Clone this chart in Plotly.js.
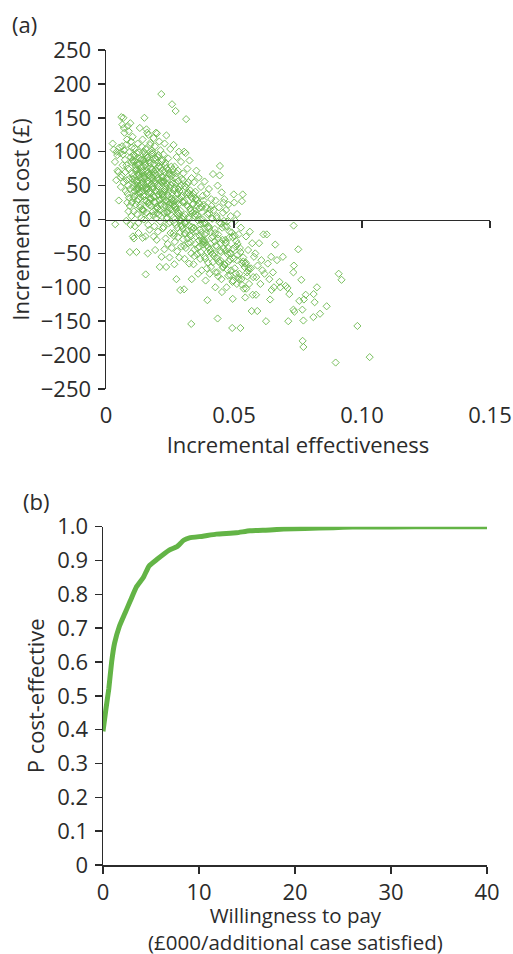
<!DOCTYPE html>
<html>
<head>
<meta charset="utf-8">
<script src="https://cdn.plot.ly/plotly-3.0.1.min.js"></script>
<style>html,body{margin:0;padding:0;background:#fff;}#chart{width:513px;height:954px;}</style>
</head>
<body>
<div id="chart"></div>
<script>
// (a) Cost-effectiveness plane: incremental effectiveness vs incremental cost (£)
const incEff = [
  0.0026,0.0035,0.0036,0.0030,0.0042,0.0045,0.0048,0.0040,0.0052,0.0055,0.0058,0.0050,0.0057,0.0044,
  0.0060,0.0068,0.0064,0.0070,0.0072,0.0078,0.0082,0.0066,0.0074,0.0080,0.0086,0.0062,0.0069,0.0077,0.0084,0.0090,0.0093,0.0088,0.0093,0.0096,0.0099,0.0091,0.0097,0.0063,0.0071,0.0085,0.0089,0.0095,0.0098,0.0076,0.0081,0.0087,0.0094,0.0100,0.0092,0.0065,0.0083,0.0079,
  0.0104,0.0112,0.0120,0.0131,0.0108,0.0125,0.0137,0.0116,0.0102,0.0128,0.0134,0.0110,0.0122,0.0139,0.0106,0.0118,0.0130,0.0114,0.0126,0.0101,0.0133,0.0109,0.0121,0.0138,0.0113,0.0127,0.0105,0.0119,0.0132,0.0124,0.0107,0.0136,0.0115,0.0129,0.0103,0.0123,0.0111,0.0135,0.0117,0.0140,0.0126,0.0109,
  0.0150,0.0158,0.0166,0.0143,0.0172,0.0155,0.0147,0.0179,0.0162,0.0141,0.0169,0.0153,0.0176,0.0145,0.0160,0.0171,0.0149,0.0164,0.0178,0.0142,0.0157,0.0168,0.0146,0.0174,0.0152,0.0163,0.0177,0.0144,0.0159,0.0170,0.0148,0.0165,0.0154,0.0163,0.0155,0.0143,0.0161,0.0173,0.0151,0.0167,0.0180,0.0156,0.0175,0.0146,0.0170,
  0.0216,0.0195,0.0199,0.0186,0.0208,0.0191,0.0213,0.0183,0.0202,0.0218,0.0188,0.0206,0.0194,0.0211,0.0185,0.0200,0.0215,0.0190,0.0204,0.0182,0.0197,0.0219,0.0187,0.0209,0.0193,0.0214,0.0201,0.0184,0.0207,0.0196,0.0212,0.0189,0.0203,0.0198,0.0192,0.0217,0.0210,0.0186,0.0205,0.0181,0.0220,0.0194,
  0.0258,0.0236,0.0229,0.0251,0.0224,0.0243,0.0232,0.0255,0.0221,0.0247,0.0238,0.0227,0.0253,0.0234,0.0245,0.0223,0.0259,0.0240,0.0230,0.0249,0.0226,0.0256,0.0237,0.0244,0.0222,0.0252,0.0233,0.0241,0.0228,0.0248,0.0235,0.0257,0.0231,0.0246,0.0239,
  0.0272,0.0264,0.0285,0.0276,0.0293,0.0268,0.0281,0.0261,0.0297,0.0273,0.0288,0.0266,0.0279,0.0295,0.0262,0.0284,0.0270,0.0291,0.0277,0.0265,0.0289,0.0274,0.0299,0.0263,0.0282,0.0269,0.0294,0.0278,0.0286,0.0267,0.0275,0.0290,0.0283,0.0271,0.0296,
  0.0313,0.0305,0.0311,0.0326,0.0318,0.0302,0.0334,0.0322,0.0308,0.0329,0.0315,0.0337,0.0303,0.0320,0.0331,0.0310,0.0324,0.0306,0.0335,0.0317,0.0328,0.0301,0.0321,0.0312,0.0333,0.0307,0.0325,0.0335,0.0305,0.0333,0.0319,0.0338,0.0309,
  0.0353,0.0362,0.0344,0.0371,0.0349,0.0378,0.0357,0.0341,0.0366,0.0375,0.0347,0.0359,0.0369,0.0343,0.0373,0.0351,0.0364,0.0379,0.0346,0.0356,0.0368,0.0342,0.0374,0.0360,0.0350,0.0377,0.0365,
  0.0418,0.0385,0.0402,0.0393,0.0411,0.0381,0.0407,0.0396,0.0415,0.0388,0.0404,0.0391,0.0413,0.0384,0.0399,0.0409,0.0386,0.0417,0.0394,0.0405,0.0389,0.0396,0.0412,0.0383,0.0401,
  0.0445,0.0444,0.0436,0.0452,0.0428,0.0441,0.0457,0.0433,0.0449,0.0425,0.0438,0.0455,0.0430,0.0447,0.0422,0.0440,0.0458,0.0435,0.0451,0.0427,0.0453,0.0436,0.0459,0.0432,0.0446,
  0.0462,0.0478,0.0469,0.0487,0.0473,0.0465,0.0491,0.0481,0.0468,0.0496,0.0475,0.0484,0.0463,0.0489,0.0477,0.0494,0.0471,0.0495,0.0493,0.0499,0.0501,0.0483,0.0466,
  0.0534,0.0531,0.0512,0.0505,0.0527,0.0518,0.0509,0.0523,0.0514,0.0536,0.0503,0.0521,0.0529,0.0511,0.0538,0.0525,0.0507,0.0532,0.0516,
  0.0562,0.0547,0.0571,0.0555,0.0578,0.0543,0.0566,0.0551,0.0575,0.0559,0.0548,0.0573,0.0544,0.0569,0.0557,
  0.0615,0.0598,0.0583,0.0607,0.0592,0.0611,0.0587,0.0603,0.0586,0.0591,0.0619,
  0.0628,0.0661,0.0645,0.0632,0.0652,0.0638,0.0656,0.0647,0.0641,0.0625,0.0668,0.0678,0.0681,
  0.0733,0.0751,0.0691,0.0734,0.0732,0.0763,0.0702,0.0709,0.0716,0.0732,0.0736,0.0712,0.0755,
  0.0767,0.0771,0.0773,0.0780,0.0810,0.0811,0.0815,0.0824,0.0836,0.0862,0.0768,0.0771,0.0909,0.0920,0.0982,0.1030,0.0897
];
const incCost = [
  112,85,-7,103,100,72,70,58,106,98,48,28,62,95,
  151,150,140,135,128,110,118,96,88,80,75,65,55,42,38,32,20,12,-48,-8,5,60,92,108,102,138,130,142,115,70,58,50,45,85,100,80,25,-2,
  122,105,98,90,85,80,77,72,68,65,62,58,55,52,48,45,40,36,30,25,18,12,8,2,-10,-20,-25,-48,135,112,95,88,75,70,60,50,42,33,22,15,-5,-28,
  150,133,125,118,110,104,100,96,92,88,84,80,76,72,68,64,60,56,52,48,44,40,36,32,28,24,20,15,10,5,0,-8,-25,-50,-81,-27,128,113,85,70,58,46,30,12,-15,
  185,128,127,120,115,108,102,97,92,86,82,78,73,69,65,61,57,53,49,45,41,37,33,29,25,21,17,12,7,2,-3,-10,-18,-30,-45,-55,-70,-25,95,62,38,15,
  170,124,112,104,96,90,84,78,72,66,61,56,51,46,41,36,31,26,21,16,11,6,1,-6,-13,-20,-28,-36,-44,-56,-70,-42,70,30,10,
  160,110,100,92,85,78,72,66,60,54,48,43,38,33,28,23,18,13,8,3,-2,-8,-14,-20,-26,-33,-40,-47,-56,-66,-88,-104,45,20,-10,
  148,100,98,87,75,68,61,55,49,43,37,31,25,19,13,7,1,-5,-11,-17,-23,-29,-35,-42,-50,-58,-65,-88,-103,-154,40,10,-20,
  72,62,55,48,41,35,29,23,17,11,5,-1,-7,-13,-19,-25,-31,-37,-44,-51,-58,-66,-75,-80,30,0,-40,
  67,56,45,38,30,22,15,8,1,-6,-13,-20,-27,-34,-41,-48,-55,-63,-72,-80,-90,-119,20,-30,-10,
  79,65,50,40,28,18,10,2,-6,-14,-22,-30,-38,-46,-54,-62,-70,-78,-88,-100,-107,-146,25,-40,-60,
  30,22,14,5,-3,-11,-19,-27,-35,-43,-51,-59,-67,-75,-83,-92,-100,-117,-160,37,25,-50,-30,
  37,27,8,-2,-12,-22,-32,-42,-52,-62,-72,-80,-88,-95,-102,-160,-40,-65,-85,
  -18,-25,-35,-45,-55,-65,-72,-78,-85,-95,-102,-111,-115,-135,-75,
  -22,-35,-50,-60,-68,-75,-85,-95,-111,-135,-80,
  -22,-37,-55,-65,-78,-88,-100,-104,-118,-150,-60,-92,-100,
  -9,-44,-55,-68,-78,-89,-98,-101,-110,-133,-136,-150,-120,
  -133,-149,-118,-111,-144,-110,-122,-100,-139,-128,-179,-188,-80,-89,-157,-203,-211
];
// Additional points in the dense core of the cloud
const incEffCore = [
  0.0101,0.0113,0.0127,0.0136,0.0106,0.0119,0.0131,0.0140,0.0109,0.0122,0.0134,0.0104,0.0116,0.0128,0.0138,0.0111,0.0124,0.0133,0.0107,0.0120,0.0129,0.0139,0.0114,0.0125,
  0.0141,0.0152,0.0163,0.0174,0.0146,0.0157,0.0168,0.0179,0.0143,0.0154,0.0165,0.0176,0.0148,0.0159,0.0170,0.0145,0.0156,0.0167,0.0178,0.0150,0.0161,0.0172,0.0142,0.0153,0.0164,0.0175,0.0147,0.0158,0.0169,0.0180,
  0.0181,0.0192,0.0203,0.0214,0.0186,0.0197,0.0208,0.0219,0.0183,0.0194,0.0205,0.0216,0.0188,0.0199,0.0210,0.0185,0.0196,0.0207,0.0218,0.0190,0.0201,0.0212,0.0182,0.0193,0.0204,0.0215,0.0187,0.0198,0.0209,0.0220,
  0.0221,0.0232,0.0243,0.0254,0.0226,0.0237,0.0248,0.0259,0.0223,0.0234,0.0245,0.0256,0.0228,0.0239,0.0250,0.0225,0.0236,0.0247,0.0258,0.0230,0.0241,0.0252,0.0222,0.0233,0.0244,0.0255,0.0229,0.0240,
  0.0261,0.0272,0.0283,0.0294,0.0266,0.0277,0.0288,0.0299,0.0263,0.0274,0.0285,0.0296,0.0268,0.0279,0.0290,0.0265,0.0276,0.0287,0.0298,0.0270,0.0281,0.0292,0.0262,0.0273,0.0284,0.0295,
  0.0301,0.0312,0.0323,0.0334,0.0306,0.0317,0.0328,0.0339,0.0303,0.0314,0.0325,0.0336,0.0308,0.0319,0.0330,0.0305,0.0316,0.0327,0.0338,0.0310,0.0321,0.0332,
  0.0341,0.0352,0.0363,0.0374,0.0346,0.0357,0.0368,0.0379,0.0343,0.0354,0.0365,0.0376,0.0348,0.0359,0.0370,0.0345,0.0356,0.0367,0.0378,0.0350,
  0.0381,0.0392,0.0403,0.0414,0.0386,0.0397,0.0408,0.0419,0.0383,0.0394,0.0405,0.0416,0.0388,0.0399,0.0410,0.0385,0.0396,0.0407,
  0.0421,0.0432,0.0443,0.0454,0.0426,0.0437,0.0448,0.0459,0.0423,0.0434,0.0445,0.0456,0.0428,0.0439,0.0450,0.0425,
  0.0461,0.0472,0.0483,0.0494,0.0466,0.0477,0.0488,0.0499,0.0463,0.0474,0.0485,0.0496,0.0468,0.0479,
  0.0503,0.0514,0.0525,0.0536,0.0547,0.0558,0.0508,0.0519,0.0530,0.0541,0.0552,0.0511
];
const incCostCore = [
  106,94,83,71,64,57,49,41,34,27,21,88,79,67,59,53,46,38,31,74,99,62,86,44,
  107,98,91,83,78,71,66,61,55,50,45,39,34,27,21,14,95,87,74,63,57,42,69,82,53,31,88,47,25,102,
  99,91,84,76,71,66,59,54,48,43,36,31,26,19,13,6,88,79,63,57,51,40,74,68,45,23,34,9,28,56,
  88,80,73,64,58,52,47,39,33,28,22,15,9,3,-4,-11,76,68,55,44,36,25,62,49,18,30,41,12,
  74,63,57,50,46,39,31,26,20,15,9,2,-5,-12,-19,-24,68,42,35,24,11,-1,53,30,5,-9,
  58,47,39,33,27,21,16,10,4,-3,-9,-15,-21,-28,-34,-39,52,36,22,-6,3,-25,
  38,31,24,18,12,6,0,-6,-12,-18,-24,-30,-36,-42,-48,-54,20,-15,-33,8,
  28,18,9,2,-5,-12,-19,-25,-32,-38,-44,-51,-58,-64,-70,-22,-48,-36,
  14,5,-4,-12,-20,-28,-35,-43,-50,-57,-64,-71,-78,-84,-48,-32,
  -2,-10,-18,-26,-34,-42,-50,-58,-66,-74,-82,-90,-46,-62,
  -24,-36,-48,-56,-64,-72,-80,-88,-96,-70,-84,-60
];

// (b) Cost-effectiveness acceptability curve
const wtp = [0,0.3,0.6,0.9,1.2,1.7,2.3,2.8,3.5,4.2,4.8,5.6,6.9,7.7,8.4,9.0,10.4,11.8,13.9,15.3,17.4,18.8,21,24,26,30,35,40];
const pCostEffective = [0.395,0.46,0.52,0.60,0.655,0.705,0.745,0.778,0.823,0.85,0.884,0.903,0.931,0.941,0.96,0.967,0.972,0.978,0.982,0.988,0.99,0.993,0.995,0.997,0.999,0.999,1.0,1.0];

// Tick labels
const effTicks = [0, 0.05, 0.10, 0.15];
const effTickText = ['0', '0.05', '0.10', '0.15'];
const costTicks = [-250,-200,-150,-100,-50,0,50,100,150,200,250];
const wtpTicks = [0,10,20,30,40];
const pTicks = [0,0.1,0.2,0.3,0.4,0.5,0.6,0.7,0.8,0.9,1.0];
const pTickText = ['0','0.1','0.2','0.3','0.4','0.5','0.6','0.7','0.8','0.9','1.0'];

const W = 513, H = 954;
const fontFam = '"Open Sans", "Noto Sans", Arial, sans-serif';
const ink = '#2b2b2b';
const green = '#63b446';

const topY = [1 - 389/H, 1 - 50/H];
const botY = [1 - 865/H, 1 - 526.7/H];
const botX = [103/W, 487/W];

const markerStyle = {symbol: 'diamond-open', size: 5.5, color: 'rgba(106,184,77,0.9)', line: {width: 1}};

const traces = [
  { type: 'scatter', mode: 'markers', x: incEff, y: incCost, xaxis: 'x', yaxis: 'y', hoverinfo: 'skip', marker: markerStyle },
  { type: 'scatter', mode: 'markers', x: incEffCore, y: incCostCore, xaxis: 'x', yaxis: 'y', hoverinfo: 'skip', marker: markerStyle },
  { type: 'scatter', mode: 'markers', x: [], y: [], xaxis: 'x3', yaxis: 'y', hoverinfo: 'skip' },
  {
    type: 'scatter', mode: 'lines', x: wtp, y: pCostEffective,
    xaxis: 'x2', yaxis: 'y2', hoverinfo: 'skip',
    line: {color: green, width: 5, shape: 'spline', smoothing: 0.4}
  }
];

const tickFont = {family: fontFam, size: 22, color: ink};
const titleFont = {family: fontFam, size: 22, color: ink};

const layout = {
  width: W, height: H,
  margin: {l: 0, r: 0, t: 0, b: 0},
  paper_bgcolor: '#fff', plot_bgcolor: '#fff',
  showlegend: false,
  font: {family: fontFam, color: ink},
  xaxis: {
    domain: [106/W, 490/W], range: [0, 0.15], anchor: 'y',
    tickvals: effTicks, ticktext: effTickText, tickfont: tickFont,
    showline: false, showgrid: false, zeroline: false,
    ticks: 'outside', ticklen: 7, tickcolor: 'rgba(0,0,0,0)',
    title: {text: 'Incremental effectiveness', font: titleFont, standoff: 6}
  },
  xaxis3: {
    overlaying: 'x', anchor: 'free', position: (topY[0] + topY[1]) / 2,
    range: [0, 0.15], tickvals: [0.05, 0.10, 0.15], showticklabels: false,
    showline: true, linecolor: ink, linewidth: 1.5,
    ticks: 'outside', ticklen: 7, tickwidth: 1.5, tickcolor: ink,
    showgrid: false, zeroline: false
  },
  yaxis: {
    domain: topY, range: [-250, 250], anchor: 'x',
    tickvals: costTicks, tickfont: tickFont,
    showline: true, linecolor: ink, linewidth: 1.5,
    ticks: 'outside', ticklen: 7, tickwidth: 1.5, tickcolor: ink,
    showgrid: false, zeroline: false, ticklabelstandoff: 2,
    title: {text: 'Incremental cost (£)', font: titleFont, standoff: 5}
  },
  xaxis2: {
    domain: botX, range: [0, 40], anchor: 'y2',
    tickvals: wtpTicks, tickfont: tickFont,
    showline: true, linecolor: ink, linewidth: 1.5,
    ticks: 'outside', ticklen: 7, tickwidth: 1.5, tickcolor: ink,
    showgrid: false, zeroline: false
  },
  yaxis2: {
    domain: botY, range: [0, 1], anchor: 'x2',
    tickvals: pTicks, ticktext: pTickText, tickfont: tickFont,
    showline: true, linecolor: ink, linewidth: 1.5,
    ticks: 'outside', ticklen: 7, tickwidth: 1.5, tickcolor: ink,
    showgrid: false, zeroline: false, ticklabelstandoff: 2,
    title: {text: 'P cost-effective', font: titleFont, standoff: 6}
  },
  annotations: [
    {text: '(a)', xref: 'paper', yref: 'paper', x: 10/W, y: 1 - 24/H, xanchor: 'left', yanchor: 'middle', showarrow: false, font: {family: fontFam, size: 22, color: ink}},
    {text: '(b)', xref: 'paper', yref: 'paper', x: 21/W, y: 1 - 501/H, xanchor: 'left', yanchor: 'middle', showarrow: false, font: {family: fontFam, size: 22, color: ink}},
    {text: 'Willingness to pay<br>(£000/additional case satisfied)', xref: 'paper', yref: 'paper',
     x: (botX[0] + botX[1]) / 2, y: 1 - 899/H, xanchor: 'center', yanchor: 'top', showarrow: false,
     font: {family: fontFam, size: 20.5, color: ink}}
  ]
};

Plotly.newPlot('chart', traces, layout, {displayModeBar: false, staticPlot: true});
</script>
</body>
</html>
